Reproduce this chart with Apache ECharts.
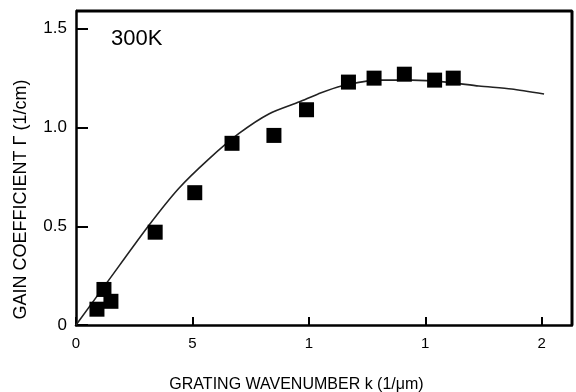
<!DOCTYPE html>
<html>
<head>
<meta charset="utf-8">
<script src="https://cdn.jsdelivr.net/npm/echarts@6/dist/echarts.min.js"></script>
<style>
  html, body { margin: 0; padding: 0; background: #fff; }
  #chart { width: 576px; height: 392px; }
</style>
</head>
<body>
<div id="chart"></div>
<script>
// measured points (squares)
var kData = [0.09, 0.12, 0.15, 0.34, 0.51, 0.67, 0.85, 0.99, 1.17, 1.28, 1.41, 1.54, 1.62];
var gammaData = [0.08, 0.18, 0.12, 0.47, 0.67, 0.92, 0.96, 1.09, 1.23, 1.25, 1.27, 1.24, 1.25];

// theory curve
var curveK = [0, 0.13, 0.31, 0.44, 0.57, 0.70, 0.83, 0.96, 1.04, 1.14, 1.30, 1.44, 1.59, 1.73, 1.87, 2.01];
var curveGamma = [0, 0.21, 0.50, 0.69, 0.84, 0.97, 1.07, 1.13, 1.17, 1.21, 1.24, 1.24, 1.23, 1.21, 1.195, 1.17];

// tick labels as printed
var xTickValues = [0, 0.5, 1, 1.5, 2];
var xTickLabels = ['0', '5', '1', '1', '2'];
var yTickValues = [0, 0.5, 1, 1.5];
var yTickLabels = ['0', '0.5', '1.0', '1.5'];

var xMax = 2.13, yMax = 1.59;
var sans = "'Liberation Sans', Arial, sans-serif";

function pick(values, labels) {
  return function (v) {
    for (var i = 0; i < values.length; i++) {
      if (Math.abs(values[i] - v) < 1e-6) return labels[i];
    }
    return '';
  };
}

var chart = echarts.init(document.getElementById('chart'));

var scatterPts = kData.map(function (k, i) { return [k, gammaData[i]]; });
var curvePts = curveK.map(function (k, i) { return [k, curveGamma[i]]; });

chart.setOption({
  animation: false,
  backgroundColor: '#fff',
  grid: {
    left: 76, right: 4, top: 11, bottom: 67,
    outerBoundsMode: 'none', containLabel: false
  },
  xAxis: {
    type: 'value',
    min: 0, max: xMax, interval: 0.5,
    name: 'GRATING WAVENUMBER k (1/μm)',
    nameLocation: 'middle',
    nameGap: 52,
    nameTextStyle: { color: '#000', fontSize: 16, fontFamily: sans, padding: [0, 55, 0, 0] },
    axisLine: { show: true, onZero: false, lineStyle: { color: '#000', width: 2.5 } },
    axisTick: { show: true, inside: true, length: 8, lineStyle: { color: '#000', width: 2 } },
    axisLabel: {
      color: '#000', fontSize: 15, fontFamily: sans,
      margin: 11, formatter: pick(xTickValues, xTickLabels)
    },
    splitLine: { show: false }
  },
  yAxis: {
    type: 'value',
    min: 0, max: yMax, interval: 0.5,
    name: 'GAIN COEFFICIENT Γ (1/cm)',
    nameLocation: 'middle',
    nameGap: 46,
    nameTextStyle: { color: '#000', fontSize: 18, fontFamily: sans, padding: [0, 63, 0, 0] },
    axisLine: { show: true, onZero: false, lineStyle: { color: '#000', width: 2.5 } },
    axisTick: { show: true, inside: true, length: 12, lineStyle: { color: '#000', width: 2 } },
    axisLabel: {
      color: '#000', fontSize: 17, fontFamily: sans,
      margin: 9, formatter: pick(yTickValues, yTickLabels)
    },
    splitLine: { show: false }
  },
  series: [
    {
      // top and right edges of the frame, along the axis extents
      type: 'line',
      data: [[0, yMax], [xMax, yMax], [xMax, 0]],
      showSymbol: false,
      clip: false,
      silent: true,
      lineStyle: { color: '#000', width: 3 },
      z: 1
    },
    {
      type: 'line',
      data: curvePts,
      smooth: 0.25,
      showSymbol: false,
      lineStyle: { color: '#222', width: 1.6 },
      z: 2
    },
    {
      type: 'scatter',
      data: scatterPts,
      symbol: 'rect',
      symbolSize: 15,
      itemStyle: { color: '#000', opacity: 1 },
      z: 3
    }
  ]
});

var lbl = chart.convertToPixel({ gridIndex: 0 }, [0.15, 1.45]);
chart.setOption({
  graphic: [{
    type: 'text',
    x: lbl[0], y: lbl[1],
    style: { text: '300K', fontSize: 22, fontFamily: sans, fill: '#000', textVerticalAlign: 'middle' }
  }]
});
</script>
</body>
</html>
